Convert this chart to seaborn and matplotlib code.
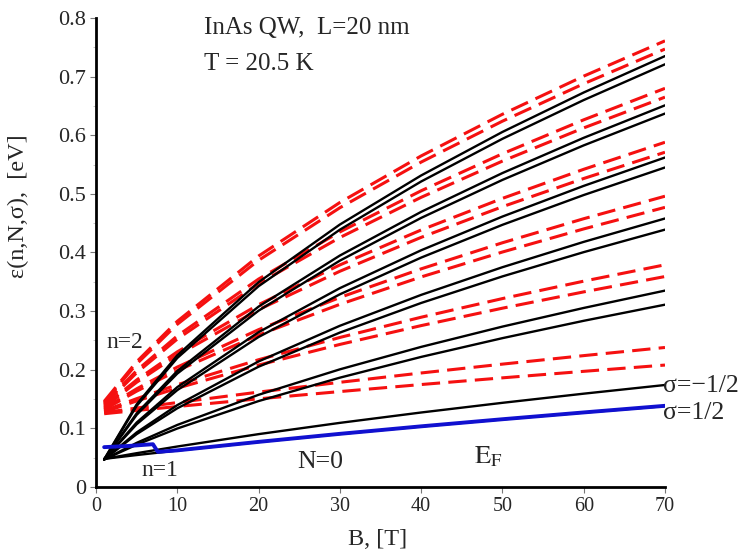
import numpy as np
import pandas as pd
import matplotlib
matplotlib.use('agg')
import matplotlib.pyplot as plt
import seaborn as sns
from matplotlib.ticker import MultipleLocator, FuncFormatter

# magnetic field grid, [T]
B = [1, 5, 10, 20, 30, 40, 50, 60, 70]

# n=1 levels (solid black), per N: [sigma=1/2, sigma=-1/2]
n1_N0 = [[0.048, 0.0545, 0.0622, 0.0768, 0.0905, 0.1033, 0.1154, 0.1270, 0.138],
         [0.048, 0.0577, 0.0691, 0.0902, 0.1094, 0.1271, 0.1436, 0.1592, 0.174]]
n1_N1 = [[0.047, 0.0722, 0.0998, 0.1466, 0.1865, 0.2219, 0.2539, 0.2835, 0.311],
         [0.047, 0.0753, 0.1059, 0.1573, 0.2007, 0.2390, 0.2736, 0.3054, 0.335]]
n1_N2 = [[0.047, 0.0902, 0.1343, 0.2052, 0.2634, 0.3139, 0.3592, 0.4006, 0.439],
         [0.047, 0.0931, 0.1397, 0.2142, 0.2750, 0.3277, 0.3749, 0.4181, 0.458]]
n1_N3 = [[0.047, 0.1071, 0.1653, 0.2559, 0.3287, 0.3913, 0.4472, 0.4980, 0.545],
         [0.047, 0.1100, 0.1704, 0.2641, 0.3392, 0.4038, 0.4613, 0.5136, 0.562]]
n1_N4 = [[0.047, 0.1231, 0.1935, 0.3008, 0.3861, 0.4590, 0.5238, 0.5827, 0.637],
         [0.047, 0.1256, 0.1979, 0.3077, 0.3948, 0.4693, 0.5355, 0.5956, 0.651]]
n1_N5 = [[0.047, 0.1384, 0.2201, 0.3425, 0.4389, 0.5211, 0.5939, 0.6600, 0.721],
         [0.047, 0.1410, 0.2246, 0.3494, 0.4477, 0.5314, 0.6056, 0.6729, 0.735]]

# n=2 levels (dashed red)
n2_N0 = [[0.125, 0.1306, 0.1373, 0.1504, 0.1628, 0.1748, 0.1862, 0.1973, 0.208],
         [0.127, 0.1347, 0.1441, 0.1619, 0.1786, 0.1945, 0.2096, 0.2241, 0.238]]
n2_N1 = [[0.128, 0.1468, 0.1686, 0.2080, 0.2432, 0.2753, 0.3050, 0.3328, 0.359],
         [0.130, 0.1507, 0.1745, 0.2171, 0.2551, 0.2896, 0.3214, 0.3511, 0.379]]
n2_N2 = [[0.132, 0.1635, 0.1986, 0.2593, 0.3116, 0.3583, 0.4008, 0.4402, 0.477],
         [0.134, 0.1675, 0.2046, 0.2684, 0.3233, 0.3721, 0.4166, 0.4576, 0.496]]
n2_N3 = [[0.136, 0.1787, 0.2249, 0.3025, 0.3680, 0.4258, 0.4781, 0.5262, 0.571],
         [0.138, 0.1826, 0.2306, 0.3110, 0.3788, 0.4384, 0.4923, 0.5419, 0.588]]
n2_N4 = [[0.140, 0.1949, 0.2524, 0.3470, 0.4255, 0.4941, 0.5559, 0.6125, 0.665],
         [0.142, 0.1986, 0.2578, 0.3547, 0.4351, 0.5053, 0.5684, 0.6263, 0.680]]
n2_N5 = [[0.144, 0.2100, 0.2776, 0.3867, 0.4763, 0.5542, 0.6240, 0.6878, 0.747],
         [0.146, 0.2137, 0.2827, 0.3940, 0.4853, 0.5647, 0.6358, 0.7008, 0.761]]

# Fermi level
B_fermi = [1, 4, 7, 7.6, 10, 20, 30, 40, 50, 60, 70]
E_fermi = [0.068, 0.070, 0.073, 0.060, 0.0625, 0.0770, 0.0907, 0.1035, 0.1156, 0.1272, 0.1385]


def to_long(groups, tag):
    rows = []
    for N, pair in enumerate(groups):
        for s, vals in enumerate(pair):
            for b, e in zip(B, vals):
                rows.append((b, e, '%s_N%d_s%d' % (tag, N, s)))
    return pd.DataFrame(rows, columns=['B', 'E', 'curve'])


df_n1 = to_long([n1_N0, n1_N1, n1_N2, n1_N3, n1_N4, n1_N5], 'n1')
df_n2 = to_long([n2_N0, n2_N1, n2_N2, n2_N3, n2_N4, n2_N5], 'n2')
df_ef = pd.DataFrame({'B': B_fermi, 'E': E_fermi})

sns.set_style('ticks')
plt.rcParams['font.family'] = ['Liberation Serif', 'DejaVu Serif']
plt.rcParams['mathtext.fontset'] = 'stix'

fig = plt.figure(figsize=(7.41, 5.55), dpi=100)
ax = fig.add_axes([0.1296, 0.1225, 0.7678, 0.8451])

sns.lineplot(data=df_n2, x='B', y='E', units='curve', estimator=None, sort=False,
             color='#f51010', linewidth=2.2, dashes=False, ax=ax)
for line in ax.get_lines():
    line.set_dashes((6.0, 2.7))
sns.lineplot(data=df_n1, x='B', y='E', units='curve', estimator=None, sort=False,
             color='black', linewidth=1.7, ax=ax)
sns.lineplot(data=df_ef, x='B', y='E', estimator=None, sort=False,
             color='#1010d0', linewidth=2.8, ax=ax)

ax.set_xlim(0, 70)
ax.set_ylim(0, 0.8)
ax.xaxis.set_major_locator(MultipleLocator(10))
ax.yaxis.set_major_locator(MultipleLocator(0.1))
ax.yaxis.set_minor_locator(MultipleLocator(0.05))
ax.yaxis.set_major_formatter(FuncFormatter(lambda v, p: '0' if abs(v) < 1e-9 else '%.1f' % v))
sns.despine(ax=ax)
for sp in ['left', 'bottom']:
    ax.spines[sp].set_linewidth(2.0)
    ax.spines[sp].set_color('black')
ax.tick_params(axis='both', which='major', length=4, width=0.8, color='#777777', pad=3)
ax.tick_params(axis='x', labelsize=14.5)
ax.tick_params(axis='y', labelsize=16)
ax.tick_params(axis='y', which='minor', length=2, width=0.6, color='#bbbbbb')

ax.set_xlabel('B, [T]', fontsize=17.5)
ax.xaxis.set_label_coords(0.494, -0.09)
ax.set_ylabel('ε(n,N,σ),  [eV]', fontsize=17.5)
ax.yaxis.set_label_coords(-0.118, 0.599)

ax.text(13.3, 0.783, 'InAs QW,  L=20 nm', fontsize=18, va='center', ha='left')
ax.text(13.3, 0.722, 'T = 20.5 K', fontsize=18, va='center', ha='left')
ax.text(1.3, 0.246, 'n=2', fontsize=17, va='center', ha='left')
ax.text(5.6, 0.029, 'n=1', fontsize=17, va='center', ha='left')
ax.text(24.7, 0.043, 'N=0', fontsize=18.5, va='center', ha='left')
ax.text(46.5, 0.052, r'$\mathrm{E}_\mathrm{F}$', fontsize=19, va='center', ha='left')
ax.text(69.8, 0.172, 'σ=−1/2', fontsize=18.5, va='center', ha='left')
ax.text(69.8, 0.126, 'σ=1/2', fontsize=18.5, va='center', ha='left')

fig.savefig('out.png', dpi=100)
